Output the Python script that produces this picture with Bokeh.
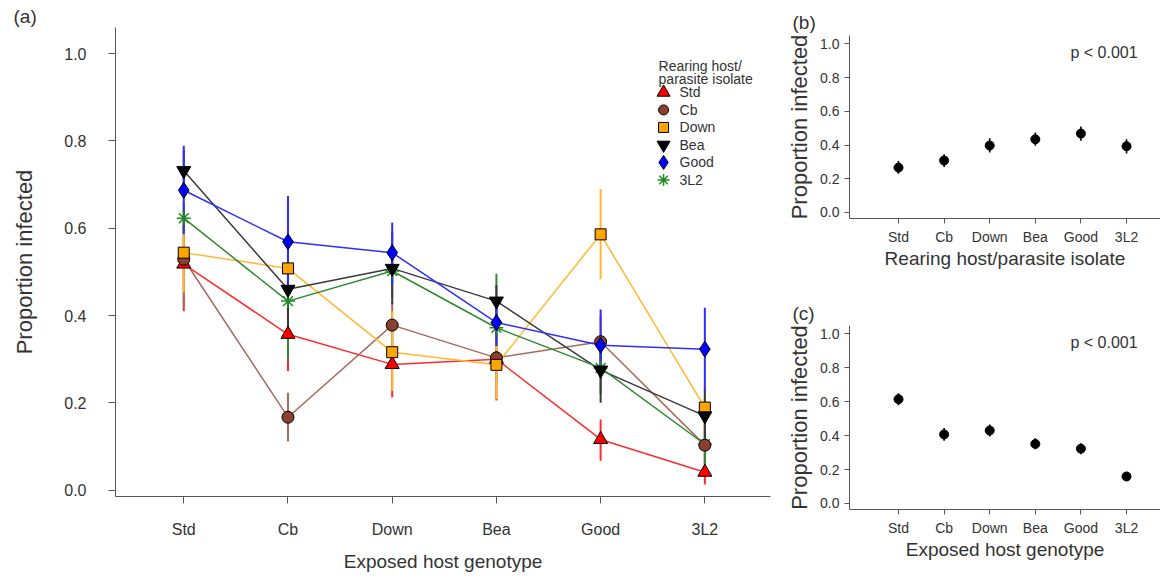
from bokeh.plotting import figure
from bokeh.layouts import row, column
from bokeh.models import Range1d, FixedTicker, Label, PrintfTickFormatter, Title
from bokeh.core.properties import value
from bokeh.embed import file_html
from bokeh.resources import INLINE

FONT = "Liberation Sans"

# ---------------- data ----------------
categories = ["Std", "Cb", "Down", "Bea", "Good", "3L2"]
y_ticks = [0.0, 0.2, 0.4, 0.6, 0.8, 1.0]

# Panel (a): proportion infected per rearing host/parasite isolate (series) x exposed host genotype (x)
std_mean = [0.518, 0.357, 0.288, 0.300, 0.116, 0.041]
std_low = [0.410, 0.273, 0.212, 0.205, 0.067, 0.013]
std_high = [0.630, 0.450, 0.370, 0.400, 0.162, 0.090]

cb_mean = [0.529, 0.167, 0.378, 0.303, 0.340, 0.103]
cb_low = [0.420, 0.112, 0.330, 0.250, 0.280, 0.060]
cb_high = [0.640, 0.223, 0.430, 0.360, 0.400, 0.150]

down_mean = [0.544, 0.508, 0.316, 0.287, 0.586, 0.189]
down_low = [0.453, 0.420, 0.227, 0.209, 0.483, 0.130]
down_high = [0.640, 0.600, 0.410, 0.370, 0.690, 0.240]

bea_mean = [0.732, 0.460, 0.508, 0.433, 0.275, 0.170]
bea_low = [0.680, 0.360, 0.426, 0.390, 0.200, 0.110]
bea_high = [0.780, 0.560, 0.590, 0.470, 0.350, 0.230]

good_mean = [0.687, 0.569, 0.544, 0.384, 0.332, 0.323]
good_low = [0.586, 0.460, 0.470, 0.330, 0.260, 0.227]
good_high = [0.789, 0.674, 0.613, 0.440, 0.414, 0.418]

l32_mean = [0.623, 0.433, 0.502, 0.372, 0.280, 0.105]
l32_low = [0.590, 0.300, 0.440, 0.330, 0.220, 0.060]
l32_high = [0.660, 0.570, 0.560, 0.496, 0.340, 0.150]

# Panel (b): by rearing host/parasite isolate
b_mean = [0.266, 0.308, 0.397, 0.434, 0.468, 0.393]
b_low = [0.230, 0.270, 0.355, 0.395, 0.425, 0.350]
b_high = [0.305, 0.345, 0.440, 0.475, 0.510, 0.435]

# Panel (c): by exposed host genotype
c_mean = [0.615, 0.407, 0.430, 0.351, 0.323, 0.159]
c_low = [0.580, 0.370, 0.395, 0.320, 0.290, 0.140]
c_high = [0.650, 0.445, 0.465, 0.385, 0.355, 0.178]

p_text = "p < 0.001"
legend_title = ["Rearing host/", "parasite isolate"]

xs = [i + 1 for i in range(len(categories))]

# ---------------- styling helpers ----------------
AXIS_COLOR = "#555555"
TEXT_COLOR = "#333333"


def style(p, tick_size, label_size, y_label_size, tick_out, y_standoff, y_label_standoff,
          x_standoff, x_label_standoff):
    p.outline_line_color = None
    p.xgrid.visible = False
    p.ygrid.visible = False
    p.background_fill_color = "white"
    p.border_fill_color = "white"
    for ax in (p.xaxis[0], p.yaxis[0]):
        ax.axis_line_color = AXIS_COLOR
        ax.axis_line_width = 1
        ax.major_tick_line_color = AXIS_COLOR
        ax.major_tick_in = 0
        ax.major_tick_out = tick_out
        ax.minor_tick_line_color = None
        ax.major_label_text_font = FONT
        ax.major_label_text_font_size = tick_size
        ax.major_label_text_color = TEXT_COLOR
        ax.axis_label_text_font = FONT
        ax.axis_label_text_font_style = "normal"
        ax.axis_label_text_color = TEXT_COLOR
    p.xaxis[0].ticker = FixedTicker(ticks=xs)
    p.xaxis[0].major_label_overrides = {x: c for x, c in zip(xs, categories)}
    p.xaxis[0].major_label_standoff = x_standoff
    p.xaxis[0].axis_label_standoff = x_label_standoff
    p.xaxis[0].axis_label_text_font_size = label_size
    p.yaxis[0].ticker = FixedTicker(ticks=y_ticks)
    p.yaxis[0].formatter = PrintfTickFormatter(format="%.1f")
    p.yaxis[0].major_label_standoff = y_standoff
    p.yaxis[0].axis_label_standoff = y_label_standoff
    p.yaxis[0].axis_label_text_font_size = y_label_size


def tag_title(text, offset, standoff):
    return Title(text=text, align="left", offset=offset, standoff=standoff,
                 text_font=FONT, text_font_size="19px", text_font_style="normal",
                 text_color=TEXT_COLOR)


# ---------------- panel (a) ----------------
pa = figure(width=784, height=579, x_range=Range1d(0.345, 6.63), y_range=Range1d(-0.0147, 1.06),
            output_backend="svg", toolbar_location=None,
            min_border_left=115, min_border_right=14, min_border_top=27, min_border_bottom=83,
            x_axis_label="Exposed host genotype", y_axis_label="Proportion infected")
style(pa, "16px", "19px", "22px", 7, 22, 24, 17, 10)
pa.add_layout(tag_title("(a)", -102, 2), "above")

series = {
    "Std": dict(mean=std_mean, low=std_low, high=std_high, marker="triangle", fill="#FF0000",
                line="#FF2A2A", size=14, lsize=13),
    "Cb": dict(mean=cb_mean, low=cb_low, high=cb_high, marker="circle", fill="#8B3F2E",
               line="#A86A5C", size=12, lsize=10),
    "Down": dict(mean=down_mean, low=down_low, high=down_high, marker="square", fill="#FFA500",
                 line="#FFB830", size=11, lsize=10),
    "Bea": dict(mean=bea_mean, low=bea_low, high=bea_high, marker="inverted_triangle", fill="#000000",
                line="#3A3A3A", size=14, lsize=13),
    "Good": dict(mean=good_mean, low=good_low, high=good_high, marker="diamond", fill="#0000FF",
                 line="#2E2EFF", size=16, lsize=14),
    "3L2": dict(mean=l32_mean, low=l32_low, high=l32_high, marker="asterisk", fill="#228B22",
                line="#2F8A2F", size=14, lsize=12),
}


def draw_marker(p, x, y, s, size):
    if s["marker"] == "asterisk":
        return p.scatter(x, y, marker="asterisk", size=size, line_color=s["fill"], line_width=1.5)
    return p.scatter(x, y, marker=s["marker"], size=size, fill_color=s["fill"],
                     line_color="#000000", line_width=1)


# error bars
for name in ["Std", "Cb", "Down", "3L2", "Bea", "Good"]:
    s = series[name]
    pa.segment(x0=xs, y0=s["low"], x1=xs, y1=s["high"], line_color=s["line"], line_width=2)
# connecting lines
for name in ["Std", "Cb", "Down", "Bea", "Good", "3L2"]:
    s = series[name]
    pa.line(xs, s["mean"], line_color=s["line"], line_width=1.5)
# markers
for name in ["3L2", "Std", "Cb", "Down", "Bea", "Good"]:
    s = series[name]
    draw_marker(pa, xs, s["mean"], s, s["size"])

# legend (drawn as a key block in the upper right of panel a)
LEG_X_MARK = 5.604
LEG_X_TEXT = 5.757
LEG_X_TITLE = 5.556
LEG_Y0 = 0.9112
LEG_STEP = 0.0401
for i, name in enumerate(categories):
    s = series[name]
    draw_marker(pa, [LEG_X_MARK], [LEG_Y0 - i * LEG_STEP], s, s["lsize"])
pa.text(x=[LEG_X_TEXT] * len(categories), y=[LEG_Y0 - i * LEG_STEP for i in range(len(categories))],
        text=categories, text_baseline="middle", text_align="left",
        text_font=value(FONT), text_font_size="14px", text_color=TEXT_COLOR)
pa.add_layout(Label(x=LEG_X_TITLE, y=0.9725, text=legend_title[0], text_font=FONT, text_font_size="14px",
                    text_color=TEXT_COLOR, text_baseline="alphabetic", text_align="left"))
pa.add_layout(Label(x=LEG_X_TITLE, y=0.9427, text=legend_title[1], text_font=FONT, text_font_size="14px",
                    text_color=TEXT_COLOR, text_baseline="alphabetic", text_align="left"))


# ---------------- panels (b) and (c) ----------------
def small_panel(mean, low, high, xlabel, tag, height, top, bottom, tag_standoff):
    p = figure(width=376, height=height, x_range=Range1d(-0.0746, 6.745), y_range=Range1d(-0.036, 1.05),
               output_backend="svg", toolbar_location=None,
               min_border_left=65, min_border_right=0, min_border_top=top, min_border_bottom=bottom,
               x_axis_label=xlabel, y_axis_label="Proportion infected")
    style(p, "14px", "19px", "22px", 5, 5, 5, 5, 0)
    p.add_layout(tag_title(tag, -57, tag_standoff), "above")
    p.segment(x0=xs, y0=low, x1=xs, y1=high, line_color="#000000", line_width=1.6)
    p.scatter(xs, mean, marker="circle", size=9, fill_color="#000000", line_color="#000000")
    p.add_layout(Label(x=4.77, y=0.95, text=p_text, text_font=FONT, text_font_size="16px",
                       text_color=TEXT_COLOR, text_baseline="middle", text_align="left"))
    return p


pb = small_panel(b_mean, b_low, b_high, "Rearing host/parasite isolate", "(b)", 295, 35, 77, 5)
pc = small_panel(c_mean, c_low, c_high, "Exposed host genotype", "(c)", 284, 30, 70, 3)

layout = row(pa, column(pb, pc))

open("out.html", "w").write(file_html(layout, INLINE))
